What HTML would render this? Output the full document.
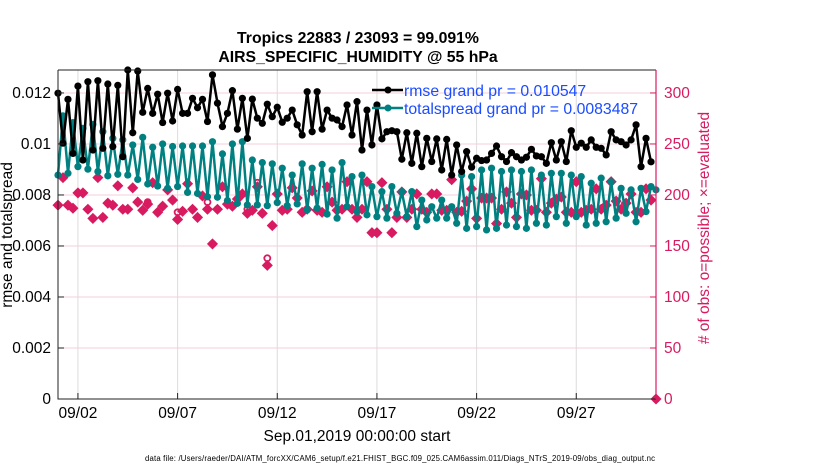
<!DOCTYPE html>
<html><head><meta charset="utf-8"><style>
body{margin:0;background:#fff;}
svg{display:block;font-family:"Liberation Sans",Arial,sans-serif;}
</style></head><body>
<svg id="chart" width="830" height="470" viewBox="0 0 830 470" xmlns="http://www.w3.org/2000/svg">
<rect x="0" y="0" width="830" height="470" fill="#fff"/>
<g id="grid"></g>
<g id="series"></g>
<g id="axes"></g>
<text x="358" y="43" text-anchor="middle" font-size="15.8" font-weight="bold">Tropics 22883 / 23093 = 99.091%</text>
<text x="358" y="62" text-anchor="middle" font-size="15.8" font-weight="bold">AIRS_SPECIFIC_HUMIDITY @ 55 hPa</text>
<text x="357" y="441" text-anchor="middle" font-size="15.5">Sep.01,2019 00:00:00 start</text>
<text x="145" y="461" font-size="7.8" textLength="510">data file: /Users/raeder/DAI/ATM_forcXX/CAM6_setup/f.e21.FHIST_BGC.f09_025.CAM6assim.011/Diags_NTrS_2019-09/obs_diag_output.nc</text>
<text transform="translate(12,235) rotate(-90)" text-anchor="middle" font-size="15.5">rmse and totalspread</text>
<text transform="translate(709,228) rotate(-90)" text-anchor="middle" font-size="15.5" fill="#d81b60"># of obs: o=possible; ×=evaluated</text>
<g>
<line x1="372" y1="90" x2="403" y2="90" stroke="#000" stroke-width="2.5"/>
<circle cx="388" cy="90" r="3.5" fill="#000"/>
<text x="404" y="96" font-size="15.8" fill="#1a4cff">rmse grand pr = 0.010547</text>
<line x1="372" y1="108" x2="403" y2="108" stroke="#008080" stroke-width="2.5"/>
<circle cx="388" cy="108" r="3.5" fill="#008080"/>
<text x="404" y="114" font-size="15.8" fill="#1a4cff">totalspread grand pr = 0.0083487</text>
</g>
</svg>
<script>
const xTickDays=[2,7,12,17,22,27];
const xTickLabels=["09/02","09/07","09/12","09/17","09/22","09/27"];
const leftTicks=[0,0.002,0.004,0.006,0.008,0.01,0.012];
const leftTickLabels=["0","0.002","0.004","0.006","0.008","0.01","0.012"];
const rightTicks=[0,50,100,150,200,250,300];
const rmse=[0.01199,0.01003,0.01175,0.00963,0.01227,0.00937,0.01244,0.00976,0.01248,0.00983,0.01235,0.0099,0.0123,0.0095,0.0129,0.01044,0.01286,0.01124,0.01218,0.0112,0.01195,0.01084,0.01199,0.0109,0.01214,0.0112,0.0112,0.01179,0.01142,0.01175,0.01088,0.01271,0.0116,0.01068,0.0112,0.01209,0.01058,0.01179,0.01022,0.01176,0.01101,0.01081,0.01156,0.01107,0.01144,0.01085,0.01101,0.01133,0.01075,0.01035,0.01205,0.01048,0.01205,0.01058,0.01133,0.01101,0.01094,0.01068,0.01153,
0.01035,0.01166,0.00976,0.01133,0.00996,0.01153,0.0102,0.01048,0.01052,0.01048,0.0094,0.01044,0.00924,0.01042,0.00911,0.01022,0.00931,0.0102,0.00898,0.01018,0.00878,0.00996,0.00892,0.0097,0.00909,0.00944,0.00935,0.00937,0.00963,0.00992,0.0095,0.00931,0.00966,0.0095,0.00937,0.00948,0.00979,0.00953,0.0095,0.00924,0.01005,0.00937,0.01009,0.00931,0.01052,0.00987,0.01003,0.00987,0.01016,0.00987,0.00983,0.00957,0.01048,0.01016,0.01009,0.00996,0.01016,0.01075,0.00911,0.01022,0.0093];
const spread=[0.00878,0.0111,0.00885,0.01084,0.00911,0.01061,0.00901,0.01077,0.00892,0.01048,0.00875,0.01022,0.00881,0.01016,0.00878,0.00996,0.00861,0.01026,0.00843,0.00987,0.00835,0.01,0.00826,0.0099,0.00833,0.00992,0.0081,0.00992,0.00806,0.00992,0.00793,0.01009,0.00791,0.00961,0.00778,0.01,0.00767,0.01009,0.00761,0.00937,0.00761,0.00927,0.00758,0.00922,0.0077,0.00905,0.00758,0.00878,0.00765,0.00922,0.00741,0.00905,0.00748,0.0092,0.00725,0.00898,0.00709,0.00927,0.00754,
0.00872,0.00735,0.00878,0.00722,0.00833,0.00715,0.00813,0.00709,0.00833,0.00728,0.00813,0.00715,0.00813,0.00676,0.0078,0.00702,0.00754,0.00709,0.0078,0.00709,0.00754,0.00689,0.00878,0.00669,0.00872,0.00676,0.00898,0.00663,0.00905,0.00669,0.00892,0.00682,0.00898,0.00676,0.00892,0.00669,0.00898,0.00689,0.00878,0.00682,0.00885,0.00715,0.00885,0.00689,0.00878,0.00715,0.00872,0.00682,0.00846,0.00689,0.00866,0.00695,0.00852,0.00709,0.00826,0.00728,0.0082,0.00695,0.00826,0.00735,0.00833,0.0082];
const evaluated=[190,217,190,187,202,202,186,177,217,178,192,190,209,186,186,207,193,185,191,212,183,189,205,195,176,184,211,186,178,199,186,152,186,208,191,189,196,201,182,185,208,182,131,170,201,185,186,207,197,183,186,204,185,183,208,193,185,186,213,
186,178,186,213,163,163,212,186,163,178,203,178,186,201,186,183,201,201,185,185,215,183,184,194,206,177,197,197,197,172,186,203,192,178,201,200,185,185,216,183,192,196,198,183,183,213,183,185,186,206,186,190,213,194,186,192,201,183,183,206,195,0];
const possible=[190,217,190,187,202,202,186,177,217,178,192,190,209,186,186,207,193,185,193,212,183,189,205,195,183,184,211,186,178,199,193,152,186,208,191,189,196,201,186,185,212,182,138,170,201,185,186,207,197,183,186,204,185,183,208,193,185,186,213,
186,178,186,213,163,163,212,186,163,178,203,178,186,201,186,183,201,201,185,185,215,183,184,194,206,177,197,197,197,172,186,203,192,178,201,200,185,185,216,183,192,196,198,183,183,213,183,185,186,206,186,190,213,194,186,192,201,183,183,206,195,0];

const NS="http://www.w3.org/2000/svg";
const L=58,R=656,T=70,B=399;
const dayMin=1,dayMax=31,yMax=0.0129,rMax=322.5;
function xs(d){return L+(d-dayMin)/(dayMax-dayMin)*(R-L);}
function yl(v){return B-v/yMax*(B-T);}
function yr(v){return B-v/rMax*(B-T);}
function mk(tag,attrs,parent){const e=document.createElementNS(NS,tag);for(const k in attrs)e.setAttribute(k,attrs[k]);parent.appendChild(e);return e;}
const grid=document.getElementById('grid'),axes=document.getElementById('axes'),ser=document.getElementById('series');

xTickDays.forEach((d,i)=>{
  const g=mk('line',{x1:xs(d),x2:xs(d),y1:T,y2:B,stroke:'#dcdcdc','stroke-width':1},grid);
  
  
  const t=mk('line',{x1:xs(d),x2:xs(d),y1:B,y2:B-6,stroke:'#222','stroke-width':1},axes);
  
  
  const lb=mk('text',{x:xs(d),y:B+19,'text-anchor':'middle','font-size':15.5},axes);
  lb.textContent=xTickLabels[i];
  
  
});
leftTicks.forEach((v,i)=>{
  if(v>0){const g=mk('line',{x1:L,x2:R,y1:yl(v),y2:yl(v),stroke:'#f4cfdc','stroke-width':1},grid);
  
  }
  const t=mk('line',{x1:L,x2:L+6,y1:yl(v),y2:yl(v),stroke:'#222','stroke-width':1},axes);
  
  
  const lb=mk('text',{x:L-7,y:yl(v)+5,'text-anchor':'end','font-size':15.5},axes);
  lb.textContent=leftTickLabels[i];
  
  
});
rightTicks.forEach(v=>{
  const t=mk('line',{x1:R,x2:R-6,y1:yr(v),y2:yr(v),stroke:'#d81b60','stroke-width':1},axes);
  
  
  const lb=mk('text',{x:R+8,y:yr(v)+5,'font-size':15.5,fill:'#d81b60'},axes);
  lb.textContent=String(v);
  
  
});
const box=mk('path',{d:`M${L},${T}H${R}M${L},${T}V${B}H${R}`,stroke:'#222',fill:'none','stroke-width':1},axes);


const rax=mk('line',{x1:R,x2:R,y1:T,y2:B,stroke:'#d81b60','stroke-width':1.2},axes);



function day(i){return dayMin+i/4;}
possible.forEach((v,i)=>{
  const c=mk('circle',{cx:xs(day(i)),cy:yr(v),r:3,fill:'none',stroke:'#d81b60','stroke-width':1.8},ser);
  
  
});
evaluated.forEach((v,i)=>{
  const x=xs(day(i)),y=yr(v),s=4.5;
  const p=mk('path',{d:`M${x-s},${y}L${x},${y-s}L${x+s},${y}L${x},${y+s}Z`,stroke:'#d81b60','stroke-width':1.5,fill:'#d81b60'},ser);
  
  
});
function line(vals,color,name){
  const d=vals.map((v,i)=>(i?'L':'M')+xs(day(i)).toFixed(1)+','+yl(v).toFixed(1)).join('');
  const p=mk('path',{d:d,stroke:color,'stroke-width':2.5,fill:'none','stroke-linejoin':'round'},ser);
  
  
  vals.forEach((v,i)=>{
    const c=mk('circle',{cx:xs(day(i)),cy:yl(v),r:3.6,fill:color},ser);
    
    
  });
}
line(spread,'#008080','totalspread');
line(rmse,'#000000','rmse');
</script>
</body></html>
